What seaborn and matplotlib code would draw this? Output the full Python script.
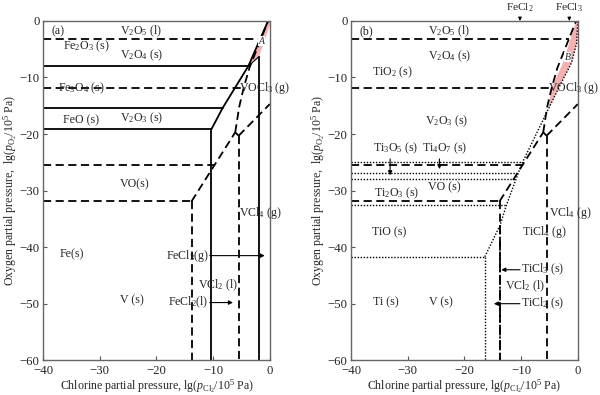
import numpy as np
import matplotlib
matplotlib.use('Agg')
import matplotlib.pyplot as plt
import seaborn as sns

sns.set_theme(style='ticks')
plt.rcParams['font.family'] = ['Liberation Serif', 'DejaVu Serif']
plt.rcParams['mathtext.fontset'] = 'custom'
plt.rcParams['mathtext.rm'] = 'Liberation Serif'
plt.rcParams['mathtext.it'] = 'Liberation Serif:italic'
plt.rcParams['axes.unicode_minus'] = True

# --- V-O-Cl boundaries (dashed, both panels) ---
v_h_y = [-3.2, -11.8, -25.4, -31.9]
v_h_xend = [-1.5, -4.6, -9.7, -13.8]
v_diag_x = [-13.8, -6.1]
v_diag_y = [-31.9, -19.7]
v_steep_x = [-6.1, -5.4, -4.6, -3.6, -0.3]
v_steep_y = [-19.7, -15.2, -11.8, -8.3, 0.0]
v_link_x = [-6.1, -5.5]
v_link_y = [-19.7, -20.3]
v_right_x = [-5.5, 0.0]
v_right_y = [-20.3, -14.7]
v_vert_x = [-13.8, -5.5]
v_vert_ytop = [-31.9, -20.3]

# --- Fe-O-Cl boundaries (solid, panel a) ---
fe_h_y = [-8.0, -15.35, -19.15]
fe_h_xend = [-3.8, -8.3, -10.3]
fe_slant_x = [-10.3, -8.3, -3.8, -0.3]
fe_slant_y = [-19.15, -15.35, -8.0, 0.0]
fe_vert_x = [-10.3, -1.9]
fe_vert_ytop = [-19.15, -6.3]
fe_link_x = [-3.8, -1.9]
fe_link_y = [-8.0, -6.3]
pink_a_x = [-3.8, -0.5, 0.0, 0.0, -1.9]
pink_a_y = [-8.0, 0.0, 0.0, -0.8, -6.3]

# --- Ti-O-Cl boundaries (dotted, panel b) ---
ti_h_y = [-25.0, -26.9, -28.0, -32.6, -41.7]
ti_h_xend = [-10.0, -10.7, -11.1, -12.6, -16.4]
ti_diag_x = [-16.4, -13.7, -12.6, -9.9, -5.2, -2.9, -1.1, -0.2, 0.0]
ti_diag_y = [-41.7, -36.1, -32.6, -25.3, -15.6, -10.9, -7.4, -3.9, 0.0]
ti_vert_x = -16.4
ti_dashdot_x = -13.8
ti_dashdot_ytop = -36.1
pink_b_x = [-5.2, -4.6, -2.6, -0.3, 0.0, -0.2, -1.1, -2.9]
pink_b_y = [-15.6, -11.8, -7.4, 0.0, 0.0, -3.9, -7.4, -10.9]

x_ticks = [-40, -30, -20, -10, 0]
y_ticks = [0, -10, -20, -30, -40, -50, -60]

DASH = (0, (4.5, 2.5))
DOT = (0, (1, 1.2))
DASHDOT = (0, (5, 1.5, 1.2, 1.5))
FS = 8.6
PINK = '#f5b0b0'


def seg(ax, xs, ys, ls='-', lw=1.3):
    sns.lineplot(x=xs, y=ys, sort=False, estimator=None, ax=ax,
                 color='black', linestyle=ls, linewidth=lw)


def draw_v(ax):
    for y, xe in zip(v_h_y, v_h_xend):
        seg(ax, [-40, xe], [y, y], DASH)
    seg(ax, v_diag_x, v_diag_y, DASH)
    seg(ax, v_steep_x, v_steep_y, DASH)
    seg(ax, v_link_x, v_link_y, DASH)
    seg(ax, v_right_x, v_right_y, DASH)
    for x, yt in zip(v_vert_x, v_vert_ytop):
        seg(ax, [x, x], [yt, -60], DASH)


def style_axes(ax):
    ax.set_xlim(-40, 0)
    ax.set_ylim(-60, 0)
    ax.set_xticks(x_ticks)
    ax.set_yticks(y_ticks)
    ax.tick_params(direction='in', length=3, width=0.8, color='#555555',
                   labelsize=9.2)
    ax.tick_params(axis='x', pad=3.5)
    ax.tick_params(axis='y', pad=2.5)
    for sp in ax.spines.values():
        sp.set_color('#666666')
        sp.set_linewidth(1.0)
    ax.set_xlabel(r'Chlorine partial pressure, lg($p_{\mathrm{Cl_2}}$/10$^5$ Pa)',
                  fontsize=FS, labelpad=0)
    ax.set_ylabel(r'Oxygen partial pressure,  lg($p_{\mathrm{O_2}}$/10$^5$ Pa)',
                  fontsize=FS, labelpad=0)


def txt(ax, x, y, s, ha='left'):
    ax.text(x, y, s, fontsize=FS, ha=ha, va='center')


def arrow(ax, x0, y0, x1, y1):
    ax.annotate('', xy=(x1, y1), xytext=(x0, y0),
                arrowprops=dict(arrowstyle='-|>', color='black', lw=0.8,
                                mutation_scale=6, shrinkA=0, shrinkB=0))


fig = plt.figure(figsize=(6.0, 3.95), dpi=100)
ax_a = fig.add_axes([0.0717, 0.088, 0.378, 0.859])
ax_b = fig.add_axes([0.585, 0.088, 0.378, 0.859])

# panel (a)
ax_a.fill(pink_a_x, pink_a_y, color=PINK, lw=0)
draw_v(ax_a)
for y, xe in zip(fe_h_y, fe_h_xend):
    seg(ax_a, [-40, xe], [y, y])
seg(ax_a, fe_slant_x, fe_slant_y)
for x, yt in zip(fe_vert_x, fe_vert_ytop):
    seg(ax_a, [x, x], [yt, -60])
seg(ax_a, fe_link_x, fe_link_y, lw=0.8)
style_axes(ax_a)

txt(ax_a, -38.5, -1.9, '(a)')
txt(ax_a, -26.5, -1.9, r'V$_2$O$_5$ (l)')
txt(ax_a, -36.5, -4.4, r'Fe$_2$O$_3$ (s)')
txt(ax_a, -26.5, -6.0, r'V$_2$O$_4$ (s)')
txt(ax_a, -37.3, -12.0, r'Fe$_3$O$_4$ (s)')
txt(ax_a, -5.4, -11.8, r'VOCl$_3$ (g)')
txt(ax_a, -36.5, -17.5, 'FeO (s)')
txt(ax_a, -26.5, -17.2, r'V$_2$O$_3$ (s)')
txt(ax_a, -26.5, -28.8, 'VO(s)')
txt(ax_a, -5.4, -34.0, r'VCl$_4$ (g)')
txt(ax_a, -37.0, -41.3, 'Fe(s)')
txt(ax_a, -26.5, -49.4, 'V (s)')
txt(ax_a, -10.8, -41.5, r'FeCl$_3$(g)', ha='right')
txt(ax_a, -12.6, -46.8, r'VCl$_2$ (l)')
txt(ax_a, -10.8, -49.8, r'FeCl$_2$(l)', ha='right')
arrow(ax_a, -10.6, -41.5, -0.9, -41.5)
arrow(ax_a, -10.6, -49.8, -6.5, -49.8)
ax_a.text(-1.5, -3.6, 'A', fontsize=7, style='italic', ha='center', va='center',
          bbox=dict(boxstyle='square,pad=0.05', fc='white', ec='none'))

# panel (b)
ax_b.fill(pink_b_x, pink_b_y, color=PINK, lw=0)
draw_v(ax_b)
for y, xe in zip(ti_h_y, ti_h_xend):
    seg(ax_b, [-40, xe], [y, y], DOT, lw=1.0)
seg(ax_b, ti_diag_x, ti_diag_y, DOT, lw=1.0)
seg(ax_b, [ti_vert_x, ti_vert_x], [ti_h_y[-1], -60], DOT, lw=1.0)
seg(ax_b, [ti_dashdot_x, ti_dashdot_x], [ti_dashdot_ytop, -60], DASHDOT, lw=1.3)
style_axes(ax_b)

txt(ax_b, -38.5, -1.9, '(b)')
txt(ax_b, -26.5, -1.9, r'V$_2$O$_5$ (l)')
txt(ax_b, -26.5, -6.3, r'V$_2$O$_4$ (s)')
txt(ax_b, -36.3, -9.1, r'TiO$_2$ (s)')
txt(ax_b, -5.2, -11.8, r'VOCl$_3$ (g)')
txt(ax_b, -27.0, -17.7, r'V$_2$O$_3$ (s)')
txt(ax_b, -36.2, -22.6, r'Ti$_3$O$_5$ (s)')
txt(ax_b, -27.4, -22.6, r'Ti$_4$O$_7$ (s)')
txt(ax_b, -26.5, -29.4, 'VO (s)')
txt(ax_b, -36.0, -30.5, r'Ti$_2$O$_3$ (s)')
txt(ax_b, -36.3, -37.4, 'TiO (s)')
txt(ax_b, -5.0, -33.9, r'VCl$_4$ (g)')
txt(ax_b, -9.8, -37.4, r'TiCl$_4$ (g)')
txt(ax_b, -10.0, -44.0, r'TiCl$_3$ (s)')
txt(ax_b, -12.9, -46.9, r'VCl$_2$ (l)')
txt(ax_b, -10.0, -50.0, r'TiCl$_2$ (s)')
txt(ax_b, -36.2, -49.8, 'Ti (s)')
txt(ax_b, -26.3, -49.8, 'V (s)')
arrow(ax_b, -33.1, -24.4, -33.1, -27.3)
arrow(ax_b, -24.4, -24.4, -24.4, -26.2)
arrow(ax_b, -10.2, -44.0, -13.5, -44.0)
arrow(ax_b, -10.2, -50.0, -14.8, -50.0)
ax_b.text(-1.8, -6.4, 'B', fontsize=7, style='italic', ha='center', va='center',
          bbox=dict(boxstyle='square,pad=0.05', fc='white', ec='none'))
for xa, lab in [(-10.2, r'FeCl$_2$'), (-1.5, r'FeCl$_3$')]:
    ax_b.annotate(lab, xy=(xa, 0), xytext=(xa, 1.2), xycoords='data',
                  textcoords='data', ha='center', va='bottom', fontsize=8.2,
                  annotation_clip=False,
                  arrowprops=dict(arrowstyle='-|>', color='black', lw=0.7,
                                  mutation_scale=5, shrinkA=0, shrinkB=0))

fig.savefig('out.png', dpi=100)
